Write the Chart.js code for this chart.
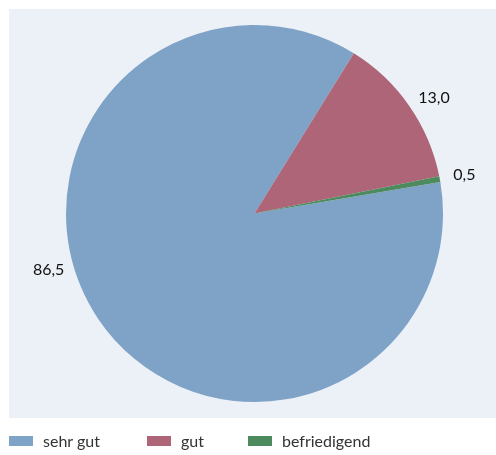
<!DOCTYPE html>
<html>
<head>
<meta charset="utf-8">
<script src="https://cdn.jsdelivr.net/npm/chart.js@4"></script>
<style>
    body { margin: 0; background: #ffffff; }
    #wrap { position: relative; width: 496px; height: 455px; }
    #bg { position: absolute; left: 9px; top: 9px; width: 487px; height: 409px; background: #ecf0f7; }
    canvas { position: absolute; left: 0; top: 0; }
    .leg { position: absolute; top: 431px; font-family: Lato, "Open Sans", sans-serif; font-size: 16px; color: #333; display: flex; align-items: center; }
    .leg span.box { display: inline-block; width: 24px; height: 10px; margin-right: 10px; }
</style>
</head>
<body>
<div id="wrap">
    <div id="bg"></div>
    <canvas id="pieChart" width="496" height="455"></canvas>
    <div id="legend"></div>
</div>
<script>
const categories = ['sehr gut', 'gut', 'befriedigend'];
const values = [86.5, 13.0, 0.5];
const valueLabels = ['86,5', '13,0', '0,5'];
const colors = ['#7ea3c7', '#ad6577', '#4d8a5e'];

// legend drawn in html, positions like the original
const legendX = [9, 147, 248];
const legend = document.getElementById('legend');
categories.forEach((c, i) => {
    const d = document.createElement('div');
    d.className = 'leg';
    d.style.left = legendX[i] + 'px';
    d.innerHTML = `<span class="box" style="background:${colors[i]}"></span>${c}`;
    legend.appendChild(d);
});

// outside labels, small angle nudge (degrees) like excel best fit
const labelPlugin = {
    id: 'outLabels',
    afterDatasetsDraw(chart, args, opts) {
        const ctx = chart.ctx;
        const meta = chart.getDatasetMeta(0);
        ctx.save();
        ctx.font = '16px Lato, "Open Sans", sans-serif';
        ctx.fillStyle = '#111';
        ctx.textAlign = 'center';
        ctx.textBaseline = 'middle';
        meta.data.forEach((arc, i) => {
            const mid = (arc.startAngle + arc.endAngle) / 2 + opts.nudge[i] * Math.PI / 180;
            const r = arc.outerRadius + opts.offset;
            ctx.fillText(valueLabels[i], arc.x + Math.cos(mid) * r, arc.y + Math.sin(mid) * r);
        });
        ctx.restore();
    }
};

new Chart(document.getElementById('pieChart').getContext('2d'), {
    type: 'pie',
    data: {
        labels: categories,
        datasets: [{
            data: values,
            backgroundColor: colors,
            borderWidth: 0
        }]
    },
    options: {
        responsive: false,
        animation: false,
        rotation: 80.4,
        layout: { padding: { left: 66, right: 53, top: 25, bottom: 53 } },
        plugins: {
            legend: { display: false },
            tooltip: { enabled: false },
            outLabels: { nudge: [18.5, 2, 0], offset: 25 }
        }
    },
    plugins: [labelPlugin]
});
</script>
</body>
</html>
